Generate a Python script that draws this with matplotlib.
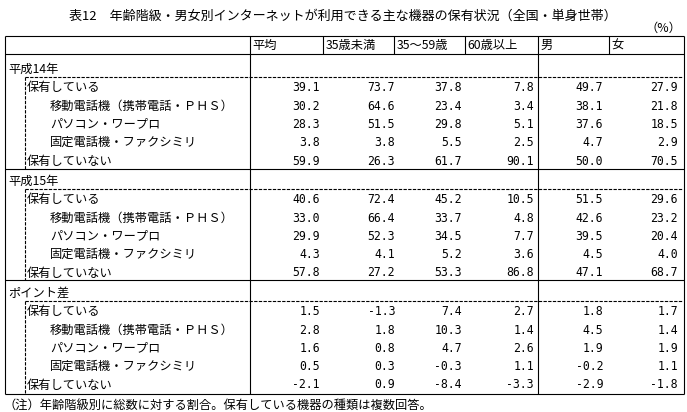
import matplotlib
matplotlib.use("Agg")
import matplotlib.pyplot as plt

plt.rcParams['font.family'] = ['Noto Sans CJK JP', 'DejaVu Sans']

# ---------------- data ----------------
title = "表12　年齢階級・男女別インターネットが利用できる主な機器の保有状況（全国・単身世帯）"
unit = "（%）"
columns = ["平均", "35歳未満", "35～59歳", "60歳以上", "男", "女"]
sections = ["平成14年", "平成15年", "ポイント差"]
row_labels = ["保有している", "移動電話機（携帯電話・ＰＨＳ）", "パソコン・ワープロ",
              "固定電話機・ファクシミリ", "保有していない"]
row_indent = [1, 2, 2, 2, 1]

values_h14 = [[39.1, 73.7, 37.8, 7.8, 49.7, 27.9],
              [30.2, 64.6, 23.4, 3.4, 38.1, 21.8],
              [28.3, 51.5, 29.8, 5.1, 37.6, 18.5],
              [3.8, 3.8, 5.5, 2.5, 4.7, 2.9],
              [59.9, 26.3, 61.7, 90.1, 50.0, 70.5]]
values_h15 = [[40.6, 72.4, 45.2, 10.5, 51.5, 29.6],
              [33.0, 66.4, 33.7, 4.8, 42.6, 23.2],
              [29.9, 52.3, 34.5, 7.7, 39.5, 20.4],
              [4.3, 4.1, 5.2, 3.6, 4.5, 4.0],
              [57.8, 27.2, 53.3, 86.8, 47.1, 68.7]]
values_diff = [[1.5, -1.3, 7.4, 2.7, 1.8, 1.7],
               [2.8, 1.8, 10.3, 1.4, 4.5, 1.4],
               [1.6, 0.8, 4.7, 2.6, 1.9, 1.9],
               [0.5, 0.3, -0.3, 1.1, -0.2, 1.1],
               [-2.1, 0.9, -8.4, -3.3, -2.9, -1.8]]
section_values = [values_h14, values_h15, values_diff]
note = "（注）年齢階級別に総数に対する割合。保有している機器の種類は複数回答。"

# ---------------- layout (pixels) ----------------
W, H = 687, 412
fig = plt.figure(figsize=(W / 100, H / 100), dpi=100)
ax = fig.add_axes([0, 0, 1, 1])
ax.set_xlim(0, W)
ax.set_ylim(H, 0)
ax.axis("off")

LW = 0.8
FS = 8.8
NUMFONT = "DejaVu Sans Mono"
NFS = 8.3

x_left, x_label_end, x_right = 4.5, 249.5, 683.5
col_lines = [249.5, 322.5, 393.5, 464.5, 537.5, 608.5]
num_right = [320, 395, 462, 534, 603, 678]
y_top, y_head = 35.5, 53.5
sec_label_y = [69, 181, 293]
sec_bottom = [168.5, 279.5, 393.5]
row_dy = [18.5, 37, 55, 73.5, 92]
dash_dy = 8
x_dash = 24.5
indent_x = {1: 27, 2: 50}

def hline(y, x0, x1, dashed=False):
    ax.plot([x0, x1], [y, y], color="black", lw=LW,
            ls=(0, (3, 1.2)) if dashed else "-", solid_capstyle="butt")

def vline(x, y0, y1, dashed=False):
    ax.plot([x, x], [y0, y1], color="black", lw=LW,
            ls=(0, (3, 1.2)) if dashed else "-", solid_capstyle="butt")

# title & unit
ax.text(343, 16, title, ha="center", va="center", fontsize=9.4)
ax.text(681, 28, unit, ha="right", va="center", fontsize=FS)

# frame
hline(y_top, x_left, x_right)
hline(y_head, x_left, x_right)
vline(x_left, y_top, sec_bottom[-1])
vline(x_right, y_top, sec_bottom[-1])
vline(x_label_end, y_top, sec_bottom[-1])
vline(col_lines[4], y_top, sec_bottom[-1])
for x in col_lines[1:4] + col_lines[5:]:
    vline(x, y_top, y_head)

# header
for x, c in zip(col_lines, columns):
    ax.text(x + 3, (y_top + y_head) / 2 + 0.5, c, ha="left", va="center", fontsize=FS)

# sections
for s, (name, vals) in enumerate(zip(sections, section_values)):
    ly = sec_label_y[s]
    ax.text(8, ly, name, ha="left", va="center", fontsize=FS)
    yd = ly + dash_dy
    hline(yd, x_dash, x_right - 0.5, dashed=True)
    vline(x_dash, yd, sec_bottom[s], dashed=True)
    hline(sec_bottom[s], x_left, x_right)
    for r, (lab, ind, rowv) in enumerate(zip(row_labels, row_indent, vals)):
        ry = ly + row_dy[r]
        ax.text(indent_x[ind], ry, lab, ha="left", va="center", fontsize=FS)
        for xr, v in zip(num_right, rowv):
            ax.text(xr, ry, f"{v:.1f}", ha="right", va="center",
                    fontsize=NFS, family=NUMFONT)

ax.text(3, 405, note, ha="left", va="center", fontsize=FS)

fig.savefig("out.png", dpi=100, facecolor="white")
